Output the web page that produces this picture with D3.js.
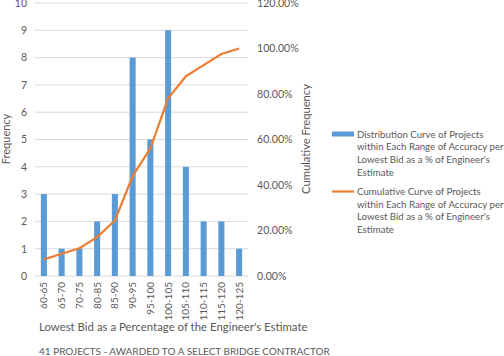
<!DOCTYPE html>
<html><head><meta charset="utf-8">
<script src="https://cdn.jsdelivr.net/npm/d3@7"></script>
<style>body{margin:0;background:#fff}svg{display:block}text{font-family:Lato,"Open Sans",sans-serif;fill:#595959}</style>
</head><body><svg id="c" width="504" height="356"></svg>
<script>
const categories=["60-65","65-70","70-75","80-85","85-90","90-95","95-100","100-105","105-110","110-115","115-120","120-125"];
const frequency=[3,1,1,2,3,8,5,9,4,2,2,1];
const cumulative=[0.0732,0.0976,0.1220,0.1707,0.2439,0.4390,0.5610,0.7805,0.8780,0.9268,0.9756,1.0];
const leftTicks=[0,1,2,3,4,5,6,7,8,9,10];
const rightTicks=[0,0.2,0.4,0.6,0.8,1.0,1.2];
const legendLabels=[["Distribution Curve of Projects","within Each Range of Accuracy per","Lowest Bid as a % of Engineer's","Estimate"],["Cumulative Curve of Projects","within Each Range of Accuracy per","Lowest Bid as a % of Engineer's","Estimate"]];

const svg=d3.select("#c");
const L=35,R=248,T=3,B=276;
const x=d3.scaleBand().domain(categories).range([L,R]).paddingInner(0.66).paddingOuter(0.33);
const y=d3.scaleLinear().domain([0,10]).range([B,T]);
const y2=d3.scaleLinear().domain([0,1.2]).range([B,T]);

svg.append("g").selectAll("line").data(leftTicks).join("line")
 .attr("x1",L).attr("x2",R).attr("y1",d=>y(d)).attr("y2",d=>y(d))
 .attr("stroke","#d9d9d9").attr("stroke-width",1);

const ga=svg.append("g").attr("transform",`translate(${L},0)`).call(d3.axisLeft(y).tickValues(leftTicks).tickSize(0).tickPadding(8));
ga.select(".domain").remove();
ga.selectAll("text").style("font-size","10.5px").attr("fill","#595959");

const gr=svg.append("g").attr("transform",`translate(${R},0)`).call(d3.axisRight(y2).tickValues(rightTicks).tickSize(0).tickPadding(9).tickFormat(d=>(d*100).toFixed(2)+"%"));
gr.select(".domain").remove();
gr.selectAll("text").style("font-size","10.6px").attr("fill","#595959");

svg.append("g").selectAll("rect").data(frequency).join("rect")
 .attr("x",(d,i)=>x(categories[i])).attr("width",x.bandwidth())
 .attr("y",d=>y(d)).attr("height",d=>B-y(d)).attr("fill","#5b9bd5");

const line=d3.line().x((d,i)=>x(categories[i])+x.bandwidth()/2).y(d=>y2(d));
svg.append("path").datum(cumulative).attr("d",line).attr("fill","none").attr("stroke","#ed7d31").attr("stroke-width",2.2).attr("stroke-linejoin","round");

const gx=svg.append("g").attr("transform",`translate(0,${B})`).call(d3.axisBottom(x).tickSize(0).tickPadding(0));
gx.select(".domain").remove();
gx.selectAll("text").style("font-size","10px").attr("fill","#595959")
 .attr("transform","rotate(-90)").attr("text-anchor","end").attr("dy","0.35em").attr("x",-6).attr("y",0);

svg.append("text").attr("transform","translate(10,139) rotate(-90)").attr("text-anchor","middle").style("font-size","11px").text("Frequency");
svg.append("text").attr("transform","translate(310,139) rotate(-90)").attr("text-anchor","middle").style("font-size","11.2px").text("Cumulative Frequency");
svg.append("text").attr("x",39).attr("y",331).style("font-size","11.4px").text("Lowest Bid as a Percentage of the Engineer's Estimate");
svg.append("text").attr("x",39).attr("y",355).style("font-size","10px").text("41 PROJECTS - AWARDED TO A SELECT BRIDGE CONTRACTOR");

const lg=svg.append("g");
const ly=[134,191.5];
lg.append("rect").attr("x",332).attr("y",ly[0]-2.5).attr("width",22).attr("height",5).attr("fill","#5b9bd5");
lg.append("line").attr("x1",332).attr("x2",354).attr("y1",ly[1]).attr("y2",ly[1]).attr("stroke","#ed7d31").attr("stroke-width",2.2);
legendLabels.forEach((lines,k)=>{
  const t=lg.append("text").attr("x",357).attr("y",ly[k]+3.5).style("font-size","9.7px");
  lines.forEach((s,j)=>t.append("tspan").attr("x",357).attr("dy",j?12.7:0).text(s));
});
</script></body></html>
